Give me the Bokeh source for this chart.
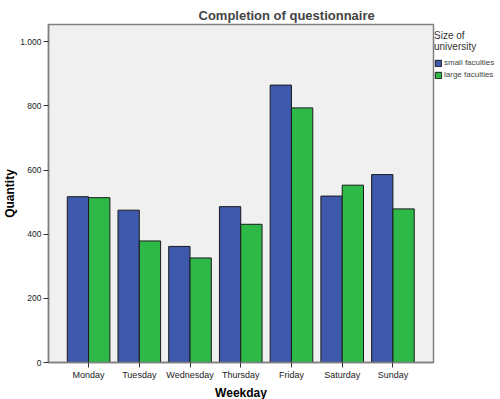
from bokeh.plotting import figure
from bokeh.models import Range1d, FixedTicker, Legend, LegendItem, ColumnDataSource
from bokeh.transform import dodge
from bokeh.embed import file_html
from bokeh.resources import INLINE

days = ["Monday", "Tuesday", "Wednesday", "Thursday", "Friday", "Saturday", "Sunday"]
small_faculties = [517, 475, 362, 486, 865, 519, 586]
large_faculties = [514, 379, 326, 431, 794, 553, 479]
y_ticks = [0, 200, 400, 600, 800, 1000]
y_tick_labels = ["0", "200", "400", "600", "800", "1.000"]

src = ColumnDataSource(dict(x=list(range(len(days))), small=small_faculties, large=large_faculties))

FONT = "Liberation Sans"
FW, FH = 385, 338
p = figure(width=500, height=399, output_backend="svg", toolbar_location=None,
           x_range=Range1d(-0.79, 6.8), y_range=Range1d(0, 1054),
           frame_width=FW, frame_height=FH,
           min_border_left=48, min_border_right=66, min_border_top=24, min_border_bottom=36)

p.background_fill_color = "#f0f0f0"
p.border_fill_color = "white"
p.outline_line_color = "#808080"
p.outline_line_width = 1.5
p.grid.visible = False

bw = 0.42
r1 = p.vbar(x=dodge("x", -bw / 2, range=p.x_range), top="small", width=bw, source=src,
            fill_color="#3e58ac", line_color="#1a1a1a", line_width=1)
r2 = p.vbar(x=dodge("x", bw / 2, range=p.x_range), top="large", width=bw, source=src,
            fill_color="#2eb848", line_color="#1a1a1a", line_width=1)

p.xaxis.ticker = FixedTicker(ticks=list(range(len(days))))
p.xaxis.major_label_overrides = {i: d for i, d in enumerate(days)}
p.yaxis.ticker = FixedTicker(ticks=y_ticks)
p.yaxis.major_label_overrides = {t: l for t, l in zip(y_ticks, y_tick_labels)}
for ax in (p.xaxis[0], p.yaxis[0]):
    ax.axis_line_color = "#808080"
    ax.axis_line_width = 1.5
    ax.major_tick_line_color = "#333333"
    ax.minor_tick_line_color = None
    ax.major_tick_in = 0
    ax.major_tick_out = 5
    ax.major_label_text_font = FONT
    ax.major_label_text_font_size = "9px"
    ax.major_label_text_color = "#222222"
    ax.axis_label_text_font = FONT
    ax.axis_label_text_font_size = "12px"
    ax.axis_label_text_font_style = "bold"
    ax.axis_label_text_color = "black"
p.yaxis.major_label_text_font_size = "8.5px"
p.xaxis.axis_label = "Weekday"
p.yaxis.axis_label = "Quantity"
p.xaxis.major_label_standoff = 2
p.yaxis.major_label_standoff = 2
p.xaxis.axis_label_standoff = 3
p.yaxis.axis_label_standoff = 0

p.title.text = "Completion of questionnaire"
p.title.text_font = FONT
p.title.text_font_size = "13px"
p.title.text_font_style = "bold"
p.title.align = "left"
p.title.offset = 150
p.title.standoff = 3

legend = Legend(items=[LegendItem(label="small faculties", renderers=[r1]),
                       LegendItem(label="large faculties", renderers=[r2])],
                location=(1, FH - 55), margin=0, padding=0, spacing=3,
                glyph_width=8, glyph_height=8, label_height=8,
                label_standoff=2, label_text_font=FONT, label_text_font_size="8px",
                border_line_color=None, background_fill_alpha=0,
                label_text_baseline="middle",
                title="Size of\nuniversity", title_text_font=FONT, title_text_font_size="10px",
                title_text_font_style="normal", title_text_color="#333333",
                title_standoff=6)
p.add_layout(legend, "right")

open("out.html", "w").write(file_html(p, INLINE))
